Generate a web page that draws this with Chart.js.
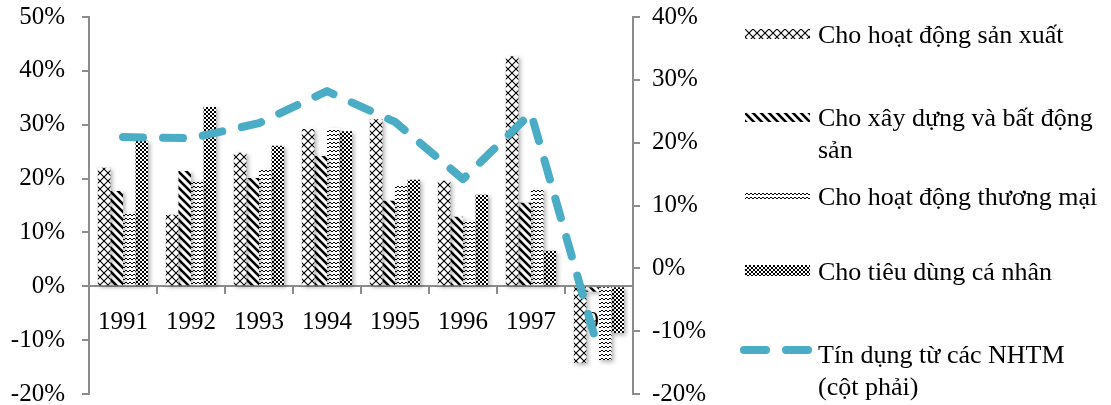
<!DOCTYPE html>
<html>
<head>
<meta charset="utf-8">
<script src="https://cdn.jsdelivr.net/npm/chart.js@4.4.1/dist/chart.umd.min.js"></script>
<style>
  html, body { margin: 0; padding: 0; background: #fff; overflow: hidden; width: 1111px; height: 405px; }
  #wrap { position: relative; width: 1111px; height: 405px; overflow: hidden; }
  #c { position: absolute; left: 0; top: -15px; }
  .leg-item { position: absolute; left: 0; top: 0; font-family: 'Liberation Serif', 'Times New Roman', serif; font-size: 26px; line-height: 32px; color: #000; }
  .leg-item canvas { position: absolute; }
  .leg-item span { position: absolute; left: 818px; white-space: pre; }
</style>
</head>
<body>
<div id="wrap">
  <canvas id="c" width="1111" height="441"></canvas>
</div>
<script>
// Năm
const years = ['1991', '1992', '1993', '1994', '1995', '1996', '1997', '1998'];

// Tên các chuỗi số liệu
const seriesNames = [
  'Cho hoạt động sản xuất',
  'Cho xây dựng và bất động\nsản',
  'Cho hoạt động thương mại',
  'Cho tiêu dùng cá nhân',
  'Tín dụng từ các NHTM\n(cột phải)'
];

// Tăng trưởng tín dụng theo lĩnh vực (%, trục trái)
const sanXuat   = [22.0, 13.3, 24.8, 29.2, 31.0, 19.6, 42.7, -14.2];
const xayDung   = [17.7, 21.4, 20.1, 24.2, 15.9, 12.9, 15.5, -1.0];
const thuongMai = [13.5, 19.4, 21.8, 29.4, 18.7, 12.2, 18.1, -13.7];
const tieuDung  = [27.0, 33.3, 26.1, 28.8, 19.8, 17.0, 6.6, -8.7];

// Tín dụng từ các NHTM (%, trục phải)
const tinDung   = [20.9, 20.7, 23.1, 28.2, 23.3, 14.2, 24.7, -13.3];

const AXIS = '#8c8c8c';
const TEAL = '#4bacc6';
const FONT = { family: "'Liberation Serif', 'Times New Roman', serif", size: 25 };

// Mẫu tô cho các cột
function makePattern(kind, ctxTarget) {
  const t = document.createElement('canvas');
  const g = t.getContext('2d');
  if (kind === 'cross') {
    t.width = 8; t.height = 8;
    g.fillStyle = '#fff'; g.fillRect(0, 0, 8, 8);
    g.strokeStyle = '#000'; g.lineWidth = 1.1;
    g.beginPath();
    g.moveTo(0, 0); g.lineTo(8, 8);
    g.moveTo(8, 0); g.lineTo(0, 8);
    g.stroke();
  } else if (kind === 'stripe') {
    t.width = 8; t.height = 8;
    g.fillStyle = '#fff'; g.fillRect(0, 0, 8, 8);
    g.strokeStyle = '#000'; g.lineWidth = 2.6;
    g.beginPath();
    for (let k = -1; k <= 1; k++) {
      g.moveTo(k * 8 - 2, -2); g.lineTo(k * 8 + 10, 10);
    }
    g.stroke();
  } else if (kind === 'wave') {
    t.width = 4; t.height = 4;
    g.fillStyle = '#fff'; g.fillRect(0, 0, 4, 4);
    g.strokeStyle = '#000'; g.lineWidth = 1;
    g.beginPath();
    g.moveTo(0, 3); g.lineTo(2, 1); g.lineTo(4, 3);
    g.stroke();
  } else {
    t.width = 4; t.height = 4;
    g.fillStyle = '#fff'; g.fillRect(0, 0, 4, 4);
    g.fillStyle = '#000';
    g.fillRect(0, 0, 2, 2); g.fillRect(2, 2, 2, 2);
  }
  return (ctxTarget || g).createPattern(t, 'repeat');
}

const canvas = document.getElementById('c');
const ctx = canvas.getContext('2d');
const patternKinds = ['cross', 'stripe', 'wave', 'check'];
const barSeries = [sanXuat, xayDung, thuongMai, tieuDung];

// Bóng mờ nhẹ cho các cột
const barShadow = {
  id: 'barShadow',
  beforeDatasetDraw(chart, args) {
    if (args.meta.type !== 'bar') return;
    const c = chart.ctx;
    c.save();
    c.shadowColor = 'rgba(0,0,0,0.30)';
    c.shadowBlur = 4;
    c.shadowOffsetX = 2;
    c.shadowOffsetY = 2;
  },
  afterDatasetDraw(chart, args) {
    if (args.meta.type !== 'bar') return;
    chart.ctx.restore();
  }
};

const datasets = barSeries.map((vals, i) => ({
  type: 'bar',
  label: seriesNames[i],
  data: vals,
  yAxisID: 'y',
  backgroundColor: makePattern(patternKinds[i], ctx),
  borderWidth: 0,
  categoryPercentage: 0.74,
  barPercentage: 1.0,
  order: 1
}));

datasets.push({
  type: 'line',
  label: seriesNames[4],
  data: tinDung,
  yAxisID: 'y1',
  borderColor: TEAL,
  borderWidth: 8,
  borderDash: [20, 20],
  borderCapStyle: 'round',
  borderJoinStyle: 'round',
  pointRadius: 0,
  tension: 0,
  fill: false,
  order: 0
});

const pct = v => v + '%';

const chart = new Chart(ctx, {
  data: { labels: years, datasets },
  plugins: [barShadow],
  options: {
    responsive: false,
    animation: false,
    layout: { padding: { left: 0, right: 398, top: 0, bottom: 0 } },
    plugins: { legend: { display: false }, tooltip: { enabled: false } },
    scales: {
      x: {
        position: { y: 0 },
        offset: true,
        z: 1,
        grid: { display: true, drawOnChartArea: false, drawTicks: true, tickLength: 7, color: AXIS, lineWidth: 2, offset: true },
        border: { display: true, color: AXIS, width: 2 },
        ticks: { font: FONT, color: '#000', padding: 14, maxRotation: 0 }
      },
      y: {
        position: 'left',
        min: -20, max: 50,
        ticks: { stepSize: 10, callback: pct, font: FONT, color: '#000', padding: 17 },
        grid: { display: true, drawOnChartArea: false, tickLength: 7, color: AXIS, lineWidth: 2 },
        border: { display: true, color: AXIS, width: 2 },
        afterFit(s) { s.width = 89; }
      },
      y1: {
        position: 'right',
        min: -20, max: 40,
        ticks: { stepSize: 10, callback: pct, font: FONT, color: '#000', padding: 12 },
        grid: { display: true, drawOnChartArea: false, tickLength: 7, color: AXIS, lineWidth: 2 },
        border: { display: true, color: AXIS, width: 2 },
        afterFit(s) { s.width = 80; }
      }
    }
  }
});

// Chú giải bên phải
const wrap = document.getElementById('wrap');
const legendRows = [
  { textTop: 19,  mark: [745, 29, 65, 10] },
  { textTop: 102, mark: [745, 113, 65, 9] },
  { textTop: 181, mark: [745, 192, 65, 9] },
  { textTop: 256, mark: [745, 265, 65, 11] },
  { textTop: 339, mark: [738, 340, 76, 20] }
];
chart.data.datasets.forEach((ds, i) => {
  const row = legendRows[i];
  const item = document.createElement('div');
  item.className = 'leg-item';
  const m = document.createElement('canvas');
  const [mx, my, mw, mh] = row.mark;
  m.width = mw; m.height = mh;
  m.style.left = mx + 'px'; m.style.top = my + 'px';
  const g = m.getContext('2d');
  if (ds.type === 'bar') {
    g.fillStyle = makePattern(patternKinds[i], g);
    g.fillRect(0, 0, mw, mh);
  } else {
    g.strokeStyle = ds.borderColor;
    g.lineWidth = 8;
    g.lineCap = 'round';
    g.beginPath();
    g.moveTo(6, mh / 2); g.lineTo(28, mh / 2);
    g.moveTo(48, mh / 2); g.lineTo(70, mh / 2);
    g.stroke();
  }
  const s = document.createElement('span');
  s.style.top = row.textTop + 'px';
  s.textContent = ds.label;
  item.appendChild(m);
  item.appendChild(s);
  wrap.appendChild(item);
});
</script>
</body>
</html>
